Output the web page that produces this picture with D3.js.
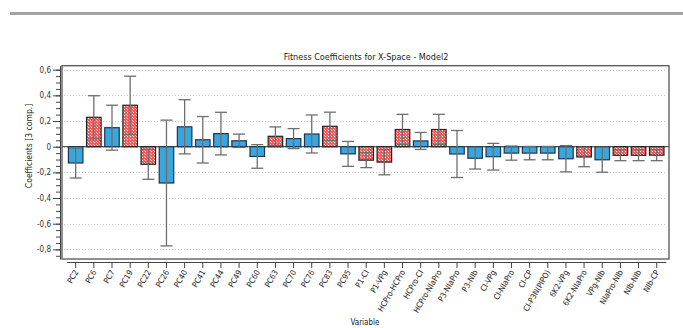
<!DOCTYPE html>
<html>
<head>
<meta charset="utf-8">
<script src="https://cdn.jsdelivr.net/npm/d3@7"></script>
<style>
  body { margin: 0; background: #fff; }
  text { font-family: "DejaVu Sans Condensed", "DejaVu Sans", sans-serif; }
</style>
</head>
<body>
<div id="chart"></div>
<script>
const categories = ['PC2', 'PC6', 'PC7', 'PC19', 'PC22', 'PC26', 'PC40', 'PC41', 'PC44', 'PC49', 'PC60',
  'PC63', 'PC70', 'PC76', 'PC83', 'PC95', 'P1-CI', 'P1-VPg', 'HCPro-HCPro', 'HCPro-CI', 'HCPro-NIaPro',
  'P3-NIaPro', 'P3-NIb', 'CI-VPg', 'CI-NIaPro', 'CI-CP', 'CI-P3N(PIPO)', '6K2-VPg', '6K2-NIaPro',
  'VPg-NIb', 'NIaPro-NIb', 'NIb-NIb', 'NIb-CP'];
const coefficients = [-0.127, 0.229, 0.148, 0.323, -0.137, -0.283, 0.155, 0.054, 0.102, 0.046, -0.076,
  0.081, 0.063, 0.099, 0.159, -0.056, -0.105, -0.12, 0.134, 0.045, 0.134,
  -0.057, -0.09, -0.078, -0.05, -0.05, -0.05, -0.094, -0.08,
  -0.102, -0.067, -0.067, -0.066];
const errors = [0.117, 0.168, 0.175, 0.226, 0.117, 0.49, 0.211, 0.181, 0.166, 0.052, 0.092,
  0.073, 0.078, 0.148, 0.11, 0.097, 0.058, 0.099, 0.118, 0.066, 0.118,
  0.183, 0.084, 0.104, 0.055, 0.052, 0.052, 0.102, 0.076,
  0.097, 0.042, 0.042, 0.043];
// 'sig' = error bar does not cross zero (hatched red in the original)
const kinds = ['n', 'sig', 'n', 'sig', 'sig', 'n', 'n', 'n', 'n', 'n', 'n',
  'sig', 'n', 'n', 'sig', 'n', 'sig', 'sig', 'sig', 'n', 'sig',
  'n', 'n', 'n', 'n', 'n', 'n', 'n', 'sig',
  'n', 'sig', 'sig', 'sig'];
const yMajorTicks = [0.6, 0.4, 0.2, 0, -0.2, -0.4, -0.6, -0.8];

const W = 683, H = 328;
const frame = { l: 62, r: 669, t: 65.7, b: 259 };

const svg = d3.select('#chart').append('svg').attr('width', W).attr('height', H);

const defs = svg.append('defs');
const pat = defs.append('pattern').attr('id', 'hatch')
  .attr('patternUnits', 'userSpaceOnUse').attr('width', 3).attr('height', 3);
pat.append('rect').attr('width', 3).attr('height', 3).attr('fill', '#f05a5a');
pat.append('rect').attr('x', 1).attr('y', 1).attr('width', 1).attr('height', 1).attr('fill', '#fff');
pat.append('rect').attr('x', 0).attr('y', 0).attr('width', 1).attr('height', 1).attr('fill', '#f8b0b0');

// top grey rule
svg.append('rect').attr('x', 10).attr('y', 12).attr('width', W - 10).attr('height', 3).attr('fill', '#a3a3a3');

const data = categories.map((c, i) => ({ c, v: coefficients[i], e: errors[i], k: kinds[i] }));

const x = d3.scaleBand().domain(categories).range([66.6, 665.8]).paddingInner(0.2).paddingOuter(0.1);
const y = d3.scaleLinear().domain([-0.875, 0.631]).range([frame.b, frame.t]);

// grid
svg.append('g').selectAll('line').data(yMajorTicks).join('line')
  .attr('x1', frame.l + 2).attr('x2', frame.r - 2)
  .attr('y1', d => Math.round(y(d)) + 0.5).attr('y2', d => Math.round(y(d)) + 0.5)
  .attr('stroke', '#c8c8c8').attr('stroke-dasharray', '1,2');

// zero line
svg.append('line').attr('x1', frame.l).attr('x2', frame.r)
  .attr('y1', y(0)).attr('y2', y(0)).attr('stroke', '#555').attr('stroke-width', 1.2);

// bars
svg.append('g').selectAll('rect').data(data).join('rect')
  .attr('x', d => x(d.c))
  .attr('y', d => y(Math.max(0, d.v)))
  .attr('width', x.bandwidth())
  .attr('height', d => Math.abs(y(d.v) - y(0)))
  .attr('fill', d => d.k === 'sig' ? 'url(#hatch)' : '#39a7dd')
  .attr('stroke', d => d.k === 'sig' ? '#222' : '#1d3550')
  .attr('stroke-width', 1.2);

// error bars
const eb = svg.append('g').attr('stroke', '#6e6e6e').attr('stroke-width', 1.3);
const cx = d => x(d.c) + x.bandwidth() / 2;
eb.selectAll('line.v').data(data).join('line').attr('class', 'v')
  .attr('x1', cx).attr('x2', cx)
  .attr('y1', d => y(d.v + d.e)).attr('y2', d => y(d.v - d.e));
eb.selectAll('line.t').data(data).join('line').attr('class', 't')
  .attr('x1', d => cx(d) - 6).attr('x2', d => cx(d) + 6)
  .attr('y1', d => y(d.v + d.e)).attr('y2', d => y(d.v + d.e));
eb.selectAll('line.b').data(data).join('line').attr('class', 'b')
  .attr('x1', d => cx(d) - 6).attr('x2', d => cx(d) + 6)
  .attr('y1', d => y(d.v - d.e)).attr('y2', d => y(d.v - d.e));

// frame
svg.append('rect').attr('x', frame.l).attr('y', frame.t)
  .attr('width', frame.r - frame.l).attr('height', frame.b - frame.t)
  .attr('fill', 'none').attr('stroke', '#555').attr('stroke-width', 1.3);

// y axis
const fmt = v => String(v).replace('.', ',');
const yAxis = svg.append('g').attr('transform', 'translate(60,0)')
  .call(d3.axisLeft(y).tickValues(yMajorTicks).tickSize(7).tickSizeOuter(0).tickPadding(2).tickFormat(fmt));
svg.append('g').attr('transform', 'translate(60,0)')
  .call(d3.axisLeft(y).tickValues(d3.range(-17, 13).map(k => k * 0.05)).tickSize(4).tickFormat(''))
  .call(g => g.select('.domain').remove());
svg.selectAll('.tick line, .domain').attr('stroke', '#444');
yAxis.selectAll('text').attr('font-size', 8).attr('fill', '#333');

// x axis
const xAxis = svg.append('g').attr('transform', 'translate(0,262)')
  .call(d3.axisBottom(x).tickSize(6).tickSizeOuter(0));
xAxis.select('.domain').attr('stroke', '#444');
xAxis.selectAll('.tick line').attr('stroke', '#444');
xAxis.selectAll('text')
  .attr('font-size', 8).attr('fill', '#222')
  .attr('text-anchor', 'end')
  .attr('dy', null).attr('y', 0)
  .attr('transform', 'translate(3,10) rotate(-60)');

// titles
svg.append('text').attr('x', 366).attr('y', 60).attr('text-anchor', 'middle')
  .attr('font-size', 9).attr('fill', '#222').text('Fitness Coefficients for X-Space - Model2');
svg.append('text').attr('transform', 'translate(32,146) rotate(-90)').attr('text-anchor', 'middle')
  .attr('font-size', 8.5).attr('fill', '#222').text('Coefficients [3 comp.]');
svg.append('text').attr('x', 365).attr('y', 325).attr('text-anchor', 'middle')
  .attr('font-size', 8).attr('fill', '#222').text('Variable');
</script>
</body>
</html>
